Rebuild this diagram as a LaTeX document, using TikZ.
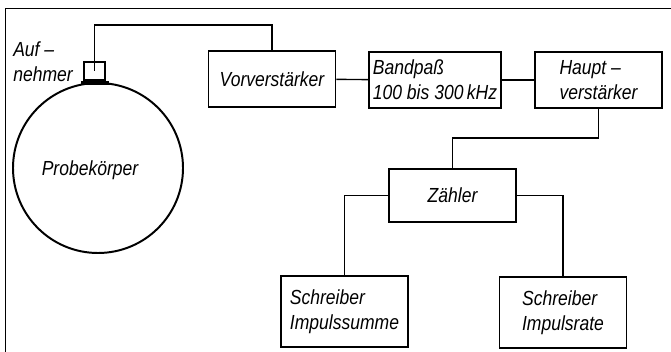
\documentclass[tikz,border=0pt]{standalone}
\usepackage{fontspec}
\setmainfont{Liberation Sans}[FakeStretch=0.86]
\tikzstyle{block} = [draw, line width=1.4pt, rectangle, minimum width=31.75mm, minimum height=14mm, inner sep=1mm]
\tikzstyle{tall} = [block, minimum height=17.75mm, align=left]
\tikzstyle{probe} = [draw, circle, line width=1.4pt, minimum size=42.5mm, inner sep=0mm]
\tikzstyle{sensor} = [draw, rectangle, line width=1.2pt, minimum width=5.25mm, minimum height=4.5mm, inner sep=0mm]
\tikzstyle{fuss} = [fill, rectangle, minimum width=7mm, minimum height=1mm, inner sep=0mm]
\tikzstyle{txt} = [inner sep=0mm, align=left]
\tikzstyle{wire} = [line width=1pt]

\begin{document}
\begin{tikzpicture}[x=0.25mm, y=-0.25mm, font=\itshape\fontsize{14.5}{18}\selectfont]
    \useasboundingbox (0,0) rectangle (671,352);
    \draw[line width=0.6pt] (5,352) -- (5,8) -- (671,8);

    % Probekoerper mit Aufnehmer
    \node[probe] (probe) at (98,168) {};
    \node[txt] (probetext) at (90,170) {Probekörper};
    \node[sensor] (sensor) at (94.5,71) {};
    \node[fuss, anchor=north] (fuss) at (sensor.south) {};
    \node[txt, anchor=north west] (auf) at (13,41) {Auf –\\nehmer};

    % Geraete
    \node[block] (vorv) at (272,79) {Vorverstärker};
    \node[block, align=left] (band) at (435,80) {Bandpaß\\100 bis 300\,kHz};
    \node[block, align=left] (haupt) at (598.5,80) {Haupt –\\verstärker};
    \node[block, minimum height=13.25mm] (zaehler) at (452.5,195.5) {Zähler};
    \node[tall] (summe) at (344.5,311.5) {Schreiber\\Impulssumme};
    \node[tall] (rate) at (563,312.5) {Schreiber\\Impulsrate};

    % Leitungen
    \draw[wire] (sensor.center) -- ++(0,-46) -| (vorv.north);
    \draw[wire] (vorv) -- (band);
    \draw[wire] (band) -- (haupt);
    \draw[wire] (haupt.south) -- ++(0,29) -| (zaehler.north);
    \draw[wire] (zaehler.west) -| (summe.north);
    \draw[wire] (zaehler.east) -| (rate.north);
\end{tikzpicture}
\end{document}
